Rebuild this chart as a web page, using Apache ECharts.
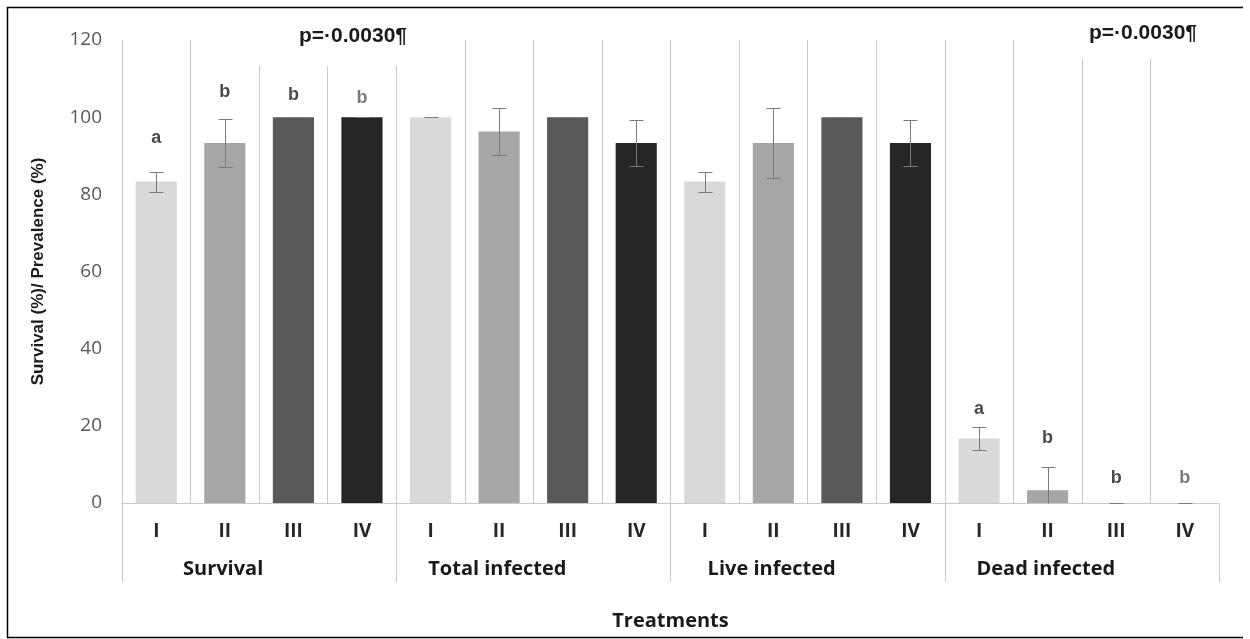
<!DOCTYPE html>
<html>
<head>
<meta charset="utf-8">
<script src="https://cdn.jsdelivr.net/npm/echarts@6/dist/echarts.min.js"></script>
<style>
  html, body { margin: 0; padding: 0; background: #ffffff; }
  #chart { width: 1250px; height: 639px; }
</style>
</head>
<body>
<div id="chart"></div>
<script>
// Treatments within each measurement group
const treatments = ['I', 'II', 'III', 'IV'];
const groups = ['Survival', 'Total infected', 'Live infected', 'Dead infected'];
const yTicks = [0, 20, 40, 60, 80, 100, 120];

// Means (%) and error (±) per treatment
const survival = [83.3, 93.3, 100, 100];
const survivalErr = [2.6, 6.1, 0, 0];
const totalInfected = [100, 96.3, 100, 93.3];
const totalInfectedErr = [0, 6.2, 0, 6.0];
const liveInfected = [83.3, 93.3, 100, 93.3];
const liveInfectedErr = [2.6, 9.0, 0, 6.0];
const deadInfected = [16.7, 3.3, 0, 0];
const deadInfectedErr = [2.9, 6.0, 0, 0];

// Significance letters (null = none shown)
const survivalLetters = ['a', 'b', 'b', 'b'];
const totalInfectedLetters = [null, null, null, null];
const liveInfectedLetters = [null, null, null, null];
const deadInfectedLetters = ['a', 'b', 'b', 'b'];
const pValueText = 'p=·0.0030¶';

// ---- styling / layout ----
const treatmentColors = ['#d9d9d9', '#a6a6a6', '#595959', '#262626'];
const letterColors = ['#1a1a1a', '#1a1a1a', '#1a1a1a', '#595959'];
// gap (px) between the top of the error bar and its letter, per group / treatment
const letterGaps = [[24, 18, 13, 10], null, null, [9, 20, 15, 15]];

const groupValues = [survival, totalInfected, liveInfected, deadInfected];
const groupErrors = [survivalErr, totalInfectedErr, liveInfectedErr, deadInfectedErr];
const groupLetters = [survivalLetters, totalInfectedLetters, liveInfectedLetters, deadInfectedLetters];

const categories = [];
const barData = [];
const errData = [];
const letterData = [];
groups.forEach(function (g, gi) {
  treatments.forEach(function (t, ti) {
    const idx = categories.length;
    categories.push(t);
    const v = groupValues[gi][ti];
    const e = groupErrors[gi][ti];
    barData.push({ value: v, itemStyle: { color: treatmentColors[ti] } });
    errData.push([idx, v, e]);
    const letter = groupLetters[gi][ti];
    if (letter) {
      letterData.push({
        value: [idx, v + e],
        label: {
          formatter: letter,
          color: letterColors[ti],
          distance: letterGaps[gi] ? letterGaps[gi][ti] : 16
        }
      });
    }
  });
});

// vertical separators: every category boundary, the outer right one hidden
const sepColors = categories.map(function () { return '#c8c8c8'; });
sepColors.push('rgba(0,0,0,0)');

const chart = echarts.init(document.getElementById('chart'), null, { renderer: 'canvas' });

const option = {
  backgroundColor: '#ffffff',
  animation: false,
  grid: { left: 122, right: 31, top: 40, bottom: 136, containLabel: false },
  xAxis: [
    {
      type: 'category',
      position: 'bottom',
      data: categories,
      boundaryGap: true,
      axisLine: { show: true, lineStyle: { color: '#c8c8c8', width: 1 } },
      axisTick: { show: false },
      axisLabel: {
        interval: 0,
        margin: 19,
        fontFamily: 'Open Sans',
        fontWeight: 'bold',
        fontSize: 19,
        color: '#262626'
      },
      splitLine: { show: true, interval: 0, lineStyle: { color: sepColors, width: 1 } }
    },
    {
      type: 'category',
      position: 'bottom',
      data: groups,
      boundaryGap: true,
      axisLine: { show: false },
      axisTick: { show: true, interval: 0, length: 79, lineStyle: { color: '#c8c8c8', width: 1 } },
      axisLabel: {
        interval: 0,
        margin: 56,
        padding: [0, 72, 0, 0],
        fontFamily: 'Open Sans',
        fontWeight: 'bold',
        fontSize: 20,
        color: '#1a1a1a'
      },
      splitLine: { show: false },
      name: 'Treatments',
      nameLocation: 'middle',
      nameGap: 108,
      nameTextStyle: { fontFamily: 'Open Sans', fontWeight: 'bold', fontSize: 20, color: '#1a1a1a' }
    }
  ],
  yAxis: {
    type: 'value',
    min: yTicks[0],
    max: yTicks[yTicks.length - 1],
    interval: yTicks[1] - yTicks[0],
    axisLine: { show: false },
    axisTick: { show: false },
    splitLine: { show: false },
    axisLabel: {
      margin: 20,
      fontFamily: 'Open Sans',
      fontSize: 19,
      color: '#595959'
    },
    name: 'Survival (%)/ Prevalence (%)',
    nameLocation: 'middle',
    nameRotate: 90,
    nameGap: 75,
    nameTextStyle: { fontFamily: 'Liberation Sans', fontWeight: 'bold', fontSize: 17, color: '#1a1a1a' }
  },
  series: [
    {
      type: 'bar',
      xAxisIndex: 0,
      data: barData,
      barWidth: '60%',
      z: 2
    },
    {
      type: 'custom',
      xAxisIndex: 0,
      data: errData,
      encode: { x: 0, y: 1 },
      z: 3,
      renderItem: function (params, api) {
        const x = api.value(0);
        const v = api.value(1);
        const e = api.value(2);
        const hiVal = v + e;
        const loVal = Math.max(0, v - e);
        const pHi = api.coord([x, hiVal]);
        const pLo = api.coord([x, loVal]);
        const cx = Math.round(pHi[0]) + 0.5;
        const yHi = Math.round(pHi[1]) + 0.5;
        const yLo = Math.round(pLo[1]) + 0.5;
        const half = 7;
        const style = { stroke: '#7a7a7a', lineWidth: 1 };
        const children = [
          { type: 'line', shape: { x1: cx, y1: yHi, x2: cx, y2: yLo }, style: style },
          { type: 'line', shape: { x1: cx - half, y1: yHi, x2: cx + half, y2: yHi }, style: style }
        ];
        if (v - e >= 0 && e > 0) {
          children.push({ type: 'line', shape: { x1: cx - half, y1: yLo, x2: cx + half, y2: yLo }, style: style });
        }
        return { type: 'group', children: children };
      }
    },
    {
      type: 'scatter',
      xAxisIndex: 0,
      data: letterData,
      symbolSize: 1,
      itemStyle: { color: 'rgba(0,0,0,0)' },
      z: 4,
      label: {
        show: true,
        position: 'top',
        fontFamily: 'Liberation Sans',
        fontWeight: 'bold',
        fontSize: 18
      }
    }
  ],
  graphic: [
    // outer frame
    {
      type: 'polyline',
      silent: true,
      shape: { points: [[1243, 7.5], [7.5, 7.5], [7.5, 637.5], [1243, 637.5]] },
      style: { stroke: '#000000', lineWidth: 1.5, fill: null }
    },
    // p-value boxes with white fill sitting over the separators
    {
      type: 'rect',
      silent: true,
      z: 100,
      shape: { x: 250, y: 22, width: 166, height: 44 },
      style: { fill: '#ffffff' }
    },
    {
      type: 'text',
      silent: true,
      z: 101,
      x: 353,
      y: 36,
      style: {
        text: pValueText,
        fontFamily: 'Liberation Sans',
        fontWeight: 'bold',
        fontSize: 21,
        fill: '#1a1a1a',
        align: 'center',
        verticalAlign: 'middle'
      }
    },
    {
      type: 'rect',
      silent: true,
      z: 100,
      shape: { x: 1075, y: 18, width: 150, height: 41 },
      style: { fill: '#ffffff' }
    },
    {
      type: 'text',
      silent: true,
      z: 101,
      x: 1143,
      y: 33,
      style: {
        text: pValueText,
        fontFamily: 'Liberation Sans',
        fontWeight: 'bold',
        fontSize: 21,
        fill: '#1a1a1a',
        align: 'center',
        verticalAlign: 'middle'
      }
    }
  ]
};

chart.setOption(option);
</script>
</body>
</html>
